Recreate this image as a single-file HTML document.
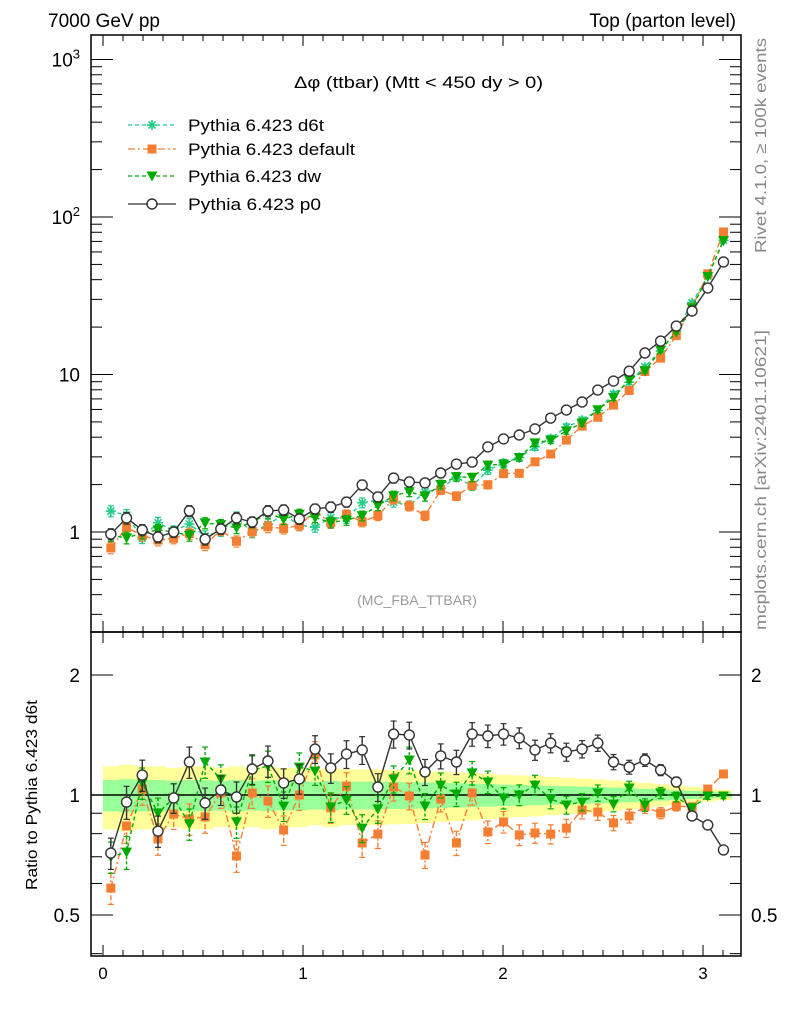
<!DOCTYPE html>
<html><head><meta charset="utf-8"><style>
html,body{margin:0;padding:0;background:#fff;}
svg{display:block;font-family:"Liberation Sans",sans-serif;}
</style></head><body>
<svg id="chart" width="786" height="1024" viewBox="0 0 786 1024" xmlns="http://www.w3.org/2000/svg">
<g id="bands"></g>
<g id="grid"></g>
<g id="series"></g>
<text x="48" y="27" font-size="19">7000 GeV pp</text>
<text x="736" y="27" font-size="19" text-anchor="end">Top (parton level)</text>
<text x="294" y="88" font-size="17" textLength="249" lengthAdjust="spacingAndGlyphs">Δφ (ttbar) (Mtt &lt; 450 dy &gt; 0)</text>
<text x="417" y="605" font-size="14" fill="#999" text-anchor="middle">(MC_FBA_TTBAR)</text>
<text transform="translate(766,253) rotate(-90)" font-size="16" fill="#888" textLength="215" lengthAdjust="spacingAndGlyphs">Rivet 4.1.0, ≥ 100k events</text>
<text transform="translate(766,630) rotate(-90)" font-size="16" fill="#888" textLength="300" lengthAdjust="spacingAndGlyphs">mcplots.cern.ch [arXiv:2401.10621]</text>
<text transform="translate(37,890) rotate(-90)" font-size="16" textLength="190" lengthAdjust="spacingAndGlyphs">Ratio to Pythia 6.423 d6t</text>
<g id="legend"></g>
</svg>
<script>
const d6tValues=[1.357,1.278,0.918,1.145,1.017,1.124,0.942,1.016,1.241,0.996,1.117,1.287,1.103,1.074,1.232,1.223,1.534,1.595,1.547,1.471,1.795,1.891,2.231,1.955,2.468,2.743,2.971,3.477,3.919,4.641,5.130,5.904,7.512,8.936,11.19,14.11,18.83,28.56,42.1,71.2];
const p0Ratio=[0.715,0.960,1.122,0.812,0.983,1.210,0.955,1.029,0.989,1.162,1.217,1.072,1.097,1.304,1.169,1.267,1.297,1.047,1.422,1.414,1.142,1.253,1.210,1.422,1.406,1.422,1.390,1.297,1.350,1.282,1.304,1.350,1.210,1.175,1.224,1.155,1.078,0.886,0.841,0.728];
const defaultRatio=[0.584,0.836,1.035,0.776,0.896,0.871,0.881,1.012,0.703,1.012,0.966,0.817,1.0,1.26,0.928,1.053,0.758,0.798,1.047,0.994,0.707,0.977,0.758,1.012,0.808,0.856,0.794,0.803,0.798,0.826,0.917,0.906,0.851,0.886,0.933,0.901,0.938,0.933,1.035,1.129];
const dwRatio=[0.699,0.719,1.072,0.901,0.983,0.846,1.21,1.097,0.856,1.155,1.182,0.938,1.175,1.149,0.933,0.972,0.826,0.923,1.097,1.224,0.938,1.059,1.006,1.136,1.078,0.983,1.0,1.059,0.977,0.944,0.960,1.012,0.949,1.041,0.944,1.012,0.989,0.928,0.994,0.994];
const relErr=[0.09,0.095,0.09,0.09,0.085,0.09,0.09,0.085,0.09,0.085,0.09,0.085,0.085,0.08,0.085,0.08,0.08,0.08,0.078,0.077,0.075,0.072,0.07,0.068,0.065,0.062,0.06,0.058,0.055,0.052,0.05,0.047,0.044,0.04,0.036,0.032,0.028,0.024,0.019,0.015];
const xTicks=[0,1,2,3];
const mainTicks=[[1,"1"],[10,"10"],[100,"10²"],[1000,"10³"]];
const ratioTicks=[[2,"2"],[1,"1"],[0.5,"0.5"]];
const legendLabels=["Pythia 6.423 d6t","Pythia 6.423 default","Pythia 6.423 dw","Pythia 6.423 p0"];
const legendWidths=[136,167,133,133];

const NS="http://www.w3.org/2000/svg";
const L=91,R=741,T=35,M=632,B=956;
const X=v=>103+200*v;
const YM=v=>532-157.5*Math.log10(v);
const YR=v=>795-398.7*Math.log10(v);
const nb=d6tValues.length,w=Math.PI/nb;
function mk(tag,attrs,parent){const e=document.createElementNS(NS,tag);for(const k in attrs)e.setAttribute(k,attrs[k]);parent.appendChild(e);return e;}
const G=document.getElementById('grid'),S=document.getElementById('series'),BD=document.getElementById('bands'),LG=document.getElementById('legend');

for(let i=0;i<nb;i++){
  const x0=X(i*w),x1=X((i+1)*w),e=relErr[i];
  const y=mk('rect',{x:x0,y:YR(1+2*e),width:x1-x0+0.5,height:YR(1-2*e)-YR(1+2*e),fill:'#ffff99'},BD);
  
  
}
for(let i=0;i<nb;i++){
  const x0=X(i*w),x1=X((i+1)*w),e=relErr[i];
  const g=mk('rect',{x:x0,y:YR(1+e),width:x1-x0+0.5,height:YR(1-e)-YR(1+e),fill:'#99ff99'},BD);
  
  
}
mk('line',{x1:L,x2:R,y1:YR(1),y2:YR(1),stroke:'#000','stroke-width':1.5},G);

for(const [y0,y1] of [[T,M],[M,B]]){
  const f=mk('rect',{x:L,y:y0,width:R-L,height:y1-y0,fill:'none',stroke:'#000','stroke-width':1.5},G);
  
  
}
for(let k=0;k<=31;k++){
  const v=k/10,x=X(v),maj=k%10===0,len=maj?11:6;
  for(const [y0,dir] of [[T,1],[M,-1],[M,1],[B,-1]]) mk('line',{x1:x,x2:x,y1:y0,y2:y0+dir*len,stroke:'#000'},G);
}
xTicks.forEach(v=>{const t=mk('text',{x:X(v),y:979,'font-size':17,'text-anchor':'middle'},G);t.textContent=v;
 
 });
for(let d=-1;d<=3;d++)for(let m=1;m<10;m++){
  const v=m*Math.pow(10,d),y=YM(v);if(y<T||y>M)continue;
  const len=m===1?22:11;
  mk('line',{x1:L,x2:L+len,y1:y,y2:y,stroke:'#000'},G);
  mk('line',{x1:R,x2:R-len,y1:y,y2:y,stroke:'#000'},G);
}
mainTicks.forEach(([v,s])=>{
  const t=mk('text',{x:80,y:YM(v)+7,'font-size':19,'text-anchor':'end'},G);
  if(s.length>2&&s.startsWith("10")){t.textContent="10";const sp=mk('tspan',{dy:-8,'font-size':13},t);sp.textContent=s==="10²"?"2":"3";}
  else t.textContent=s;
  
  
});
[0.4,0.5,0.6,0.7,0.8,0.9,1,2].forEach(v=>{
  const y=YR(v),maj=(v===0.5||v===1||v===2),len=maj?22:11;
  mk('line',{x1:L,x2:L+len,y1:y,y2:y,stroke:'#000'},G);
  mk('line',{x1:R,x2:R-len,y1:y,y2:y,stroke:'#000'},G);
});
ratioTicks.forEach(([v,s])=>{
  const t=mk('text',{x:80,y:YR(v)+7,'font-size':19,'text-anchor':'end'},G);t.textContent=s;
  
  
  const t2=mk('text',{x:751,y:YR(v)+7,'font-size':19},G);t2.textContent=s;
  
  
});

function marker(kind,x,y,col,p){
  if(kind==='star'){for(let a=0;a<4;a++){const an=a*Math.PI/4;mk('line',{x1:x-5*Math.cos(an),y1:y-5*Math.sin(an),x2:x+5*Math.cos(an),y2:y+5*Math.sin(an),stroke:col,'stroke-width':1.6},p);}}
  else if(kind==='square')mk('rect',{x:x-4.5,y:y-4.5,width:9,height:9,fill:col},p);
  else if(kind==='tri')mk('polygon',{points:`${x-5.5},${y-4.5} ${x+5.5},${y-4.5} ${x},${y+5.5}`,fill:col},p);
  else mk('circle',{cx:x,cy:y,r:5,fill:'none',stroke:col,'stroke-width':1.4},p);
}
const defs=[
 {name:'d6t',ratio:d6tValues.map(()=>1),col:'#22cc88',dash:'4,3',mk:'star',ref:true},
 {name:'default',ratio:defaultRatio,col:'#f47f32',dash:'7,3,2,3',mk:'square'},
 {name:'dw',ratio:dwRatio,col:'#00aa00',dash:'4,3',mk:'tri'},
 {name:'p0',ratio:p0Ratio,col:'#333333',dash:'',mk:'circle'}
];
defs.forEach(s=>{
  const g=mk('g',{},S);
  
  
  const main=d6tValues.map((v,i)=>v*s.ratio[i]);
  const panels=[[main,YM,false]];
  if(!s.ref)panels.push([s.ratio,YR,true]);
  for(const [vals,Y,isRatio] of panels){
    const pts=vals.map((v,i)=>[X((i+0.5)*w),Y(v)]);
    const pl=mk('polyline',{points:pts.map(p=>p.join(',')).join(' '),fill:'none',stroke:s.col,'stroke-width':1.4},g);
    if(s.dash)pl.setAttribute('stroke-dasharray',s.dash);
    
    
    vals.forEach((v,i)=>{
      const x=pts[i][0],e=relErr[i]*(isRatio?1:0.9);
      const y0=Y(v*(1+e)),y1=Y(v*(1-e));
      const eb=mk('line',{x1:x,x2:x,y1:y0,y2:y1,stroke:s.col,'stroke-width':1.4},g);
      if(s.dash)eb.setAttribute('stroke-dasharray',s.dash==='4,3'?'3,2':'5,2,2,2');
      mk('line',{x1:x-3,x2:x+3,y1:y0,y2:y0,stroke:s.col,'stroke-width':1.2},g);
      mk('line',{x1:x-3,x2:x+3,y1:y1,y2:y1,stroke:s.col,'stroke-width':1.2},g);
      const pg=mk('g',{},g);
      
      
      if(s.mk==='circle')mk('circle',{cx:x,cy:pts[i][1],r:5,fill:'#fff'},pg);
      marker(s.mk,x,pts[i][1],s.col,pg);
    });
  }
});
const ly=[125,149,176,204];
defs.forEach((s,i)=>{
  const g=mk('g',{},LG);
  
  
  const ln=mk('line',{x1:128,x2:176,y1:ly[i],y2:ly[i],stroke:s.col,'stroke-width':1.3},g);
  if(s.dash)ln.setAttribute('stroke-dasharray',s.dash);
  if(s.mk==='circle')mk('circle',{cx:152,cy:ly[i],r:4,fill:'#fff'},g);
  marker(s.mk,152,ly[i],s.col,g);
  const t=mk('text',{x:188,y:ly[i]+6,'font-size':17,textLength:legendWidths[i],lengthAdjust:'spacingAndGlyphs'},g);t.textContent=legendLabels[i];
});
</script>
</body></html>
